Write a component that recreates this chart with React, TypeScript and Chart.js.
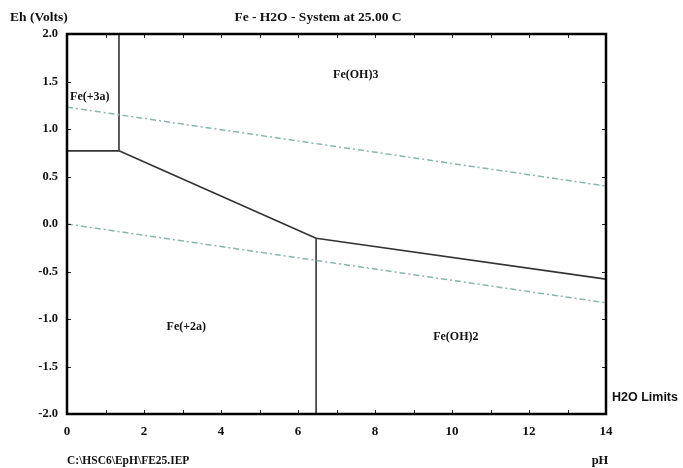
import React, { useEffect, useRef } from "react";
import { Chart, registerables } from "chart.js";
Chart.register(...registerables);

// ---- data (pH on x, Eh in volts on y) ----
const h2oUpperPH = [0, 14];
const h2oUpperEh = [1.23, 0.4];
const h2oLowerPH = [0, 14];
const h2oLowerEh = [0.0, -0.83];

const fe3Fe2PH = [0, 1.35];
const fe3Fe2Eh = [0.77, 0.77];
const fe3FeOH3PH = [1.35, 1.35];
const fe3FeOH3Eh = [0.77, 2.0];
const fe2FeOH3PH = [1.35, 6.47];
const fe2FeOH3Eh = [0.77, -0.15];
const feOH2FeOH3PH = [6.47, 14];
const feOH2FeOH3Eh = [-0.15, -0.58];
const fe2FeOH2PH = [6.47, 6.47];
const fe2FeOH2Eh = [-0.15, -2.0];

const regionNames = ["Fe(+3a)", "Fe(OH)3", "Fe(+2a)", "Fe(OH)2"];
const regionPH = [0.08, 7.5, 3.1, 10.1];
const regionEh = [1.34, 1.57, -1.08, -1.19];

const titleText = "Fe - H2O - System at 25.00 C";
const yTitle = "Eh (Volts)";
const xTitle = "pH";
const fileText = "C:\\HSC6\\EpH\\FE25.IEP";
const limitsText = "H2O Limits";

const pts = (xs: number[], ys: number[]) => xs.map((x, i) => ({ x, y: ys[i] }));

const SERIF = '"Liberation Serif", "Times New Roman", serif';

const decorPlugin = {
  id: "decor",
  afterDatasetsDraw(chart: any) {
    const { ctx, chartArea: a, scales } = chart;
    const xs = scales.x;
    const ys = scales.y;
    ctx.save();
    // inside tick marks
    ctx.strokeStyle = "#222";
    ctx.lineWidth = 1;
    for (let v = 0; v <= 14; v += 1) {
      const px = Math.round(xs.getPixelForValue(v)) + 0.5;
      ctx.beginPath();
      ctx.moveTo(px, a.bottom);
      ctx.lineTo(px, a.bottom - 4);
      ctx.moveTo(px, a.top);
      ctx.lineTo(px, a.top + 4);
      ctx.stroke();
    }
    for (let v = -2; v <= 2; v += 0.5) {
      const py = Math.round(ys.getPixelForValue(v)) + 0.5;
      ctx.beginPath();
      ctx.moveTo(a.left, py);
      ctx.lineTo(a.left + 4, py);
      ctx.moveTo(a.right, py);
      ctx.lineTo(a.right - 4, py);
      ctx.stroke();
    }
    // frame
    ctx.strokeStyle = "#000";
    ctx.lineWidth = 2.5;
    ctx.strokeRect(a.left, a.top, a.right - a.left, a.bottom - a.top);

    // region labels
    ctx.fillStyle = "#111";
    ctx.font = `bold 12px ${SERIF}`;
    ctx.textBaseline = "middle";
    regionNames.forEach((n, i) => {
      ctx.textAlign = i === 0 ? "left" : "center";
      ctx.fillText(n, xs.getPixelForValue(regionPH[i]), ys.getPixelForValue(regionEh[i]));
    });

    // outer texts
    ctx.font = `bold 13.5px ${SERIF}`;
    ctx.textAlign = "center";
    ctx.fillText(titleText, 318, 18);
    ctx.textAlign = "left";
    ctx.fillText(yTitle, 10, 18);
    ctx.font = `bold 11.5px ${SERIF}`;
    ctx.fillText(fileText, a.left, 461);
    ctx.font = `bold 12.5px ${SERIF}`;
    ctx.textAlign = "center";
    ctx.fillText(xTitle, a.right - 6, 461);
    ctx.textAlign = "left";
    ctx.font = `bold 12.5px "Liberation Sans", Arial, sans-serif`;
    ctx.fillText(limitsText, a.right + 6, 398);
    ctx.restore();
  },
};

export default function App() {
  const ref = useRef<HTMLCanvasElement>(null);
  useEffect(() => {
    if (!ref.current) return;
    const solid = { borderColor: "#333", borderWidth: 1.6, pointRadius: 0, showLine: true, fill: false };
    const water = {
      borderColor: "#8ab5ae",
      borderWidth: 1.5,
      borderDash: [6, 3, 2, 3],
      pointRadius: 0,
      showLine: true,
      fill: false,
    };
    const chart = new Chart(ref.current, {
      type: "scatter",
      data: {
        datasets: [
          { ...water, data: pts(h2oUpperPH, h2oUpperEh) },
          { ...water, data: pts(h2oLowerPH, h2oLowerEh) },
          { ...solid, data: pts(fe3Fe2PH, fe3Fe2Eh) },
          { ...solid, data: pts(fe3FeOH3PH, fe3FeOH3Eh) },
          { ...solid, data: pts(fe2FeOH3PH, fe2FeOH3Eh) },
          { ...solid, data: pts(feOH2FeOH3PH, feOH2FeOH3Eh) },
          { ...solid, data: pts(fe2FeOH2PH, fe2FeOH2Eh) },
        ] as any,
      },
      options: {
        animation: false,
        responsive: false,
        layout: { padding: { left: 0, top: 34, right: 77, bottom: 0 } },
        plugins: { legend: { display: false }, tooltip: { enabled: false } },
        scales: {
          x: {
            type: "linear",
            min: 0,
            max: 14,
            grid: { display: false, drawTicks: false },
            border: { display: false },
            afterFit: (s: any) => {
              s.height = 54;
            },
            ticks: {
              stepSize: 1,
              padding: 10,
              color: "#111",
              font: { family: SERIF, weight: "bold", size: 13 },
              autoSkip: false,
              maxRotation: 0,
              callback: (v: any) => (Number(v) % 2 === 0 ? String(v) : ""),
            },
          },
          y: {
            type: "linear",
            min: -2,
            max: 2,
            grid: { display: false, drawTicks: false },
            border: { display: false },
            afterFit: (s: any) => {
              s.width = 67;
            },
            ticks: {
              stepSize: 0.5,
              padding: 9,
              color: "#111",
              font: { family: SERIF, weight: "bold", size: 12.5 },
              callback: (v: any) => Number(v).toFixed(1),
            },
          },
        },
      },
      plugins: [decorPlugin],
    } as any);
    return () => chart.destroy();
  }, []);
  return (
    <div style={{ position: "absolute", left: 0, top: 0, width: 683, height: 468, background: "#fff" }}>
      <canvas ref={ref} width={683} height={468} />
    </div>
  );
}
